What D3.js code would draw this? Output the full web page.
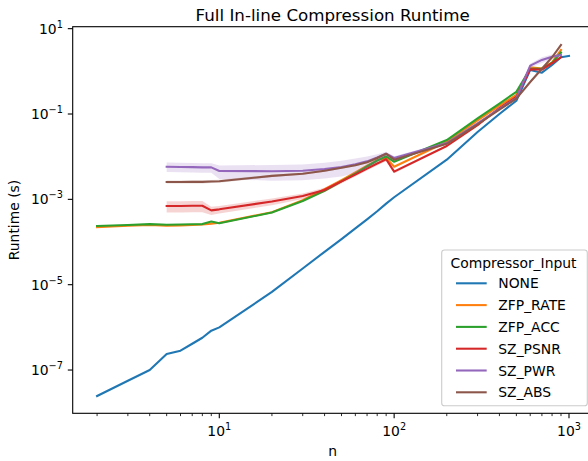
<!DOCTYPE html>
<html><head><meta charset="utf-8">
<script src="https://cdn.jsdelivr.net/npm/d3@7"></script>
<style>body{margin:0;background:#fff}svg{display:block}text{font-family:"DejaVu Sans",sans-serif}</style>
</head><body><svg id="c" width="588" height="461"></svg>
<script>
// ---- data (runtime in seconds) ----
const nNone = [2,3,4,5,6,7,8,9,10,20,30,40,50,60,70,80,90,100,200,300,400,500,600,700,800,900,1000];
const nZfp  = [2,3,4,5,6,7,8,9,10,20,30,40,50,60,70,80,90,100,200,300,400,500,600,700,800,900];
const nSz   = [5,6,7,8,9,10,20,30,40,50,60,70,80,90,100,200,300,400,500,600,700,800,900];

const NONE     = [2.46e-8,5.62e-8,1.0e-7,2.37e-7,2.84e-7,4.13e-7,5.71e-7,8.36e-7,1.0e-6,6.76e-6,2.40e-5,5.89e-5,1.17e-4,2.09e-4,3.39e-4,5.25e-4,7.94e-4,1.12e-3,8.51e-3,3.80e-2,0.100,0.205,1.08,0.93,1.41,2.13,2.29];
const ZFP_RATE = [2.24e-4,2.40e-4,2.51e-4,2.40e-4,2.45e-4,2.51e-4,2.57e-4,2.69e-4,2.82e-4,5.01e-4,9.55e-4,1.74e-3,2.82e-3,4.27e-3,6.17e-3,8.32e-3,9.33e-3,5.82e-3,2.24e-2,7.08e-2,0.158,0.279,1.24,1.17,1.62,3.16];
const ZFP_ACC  = [2.37e-4,2.51e-4,2.63e-4,2.55e-4,2.57e-4,2.60e-4,2.63e-4,3.02e-4,2.75e-4,4.90e-4,9.12e-4,1.58e-3,2.63e-3,3.98e-3,5.89e-3,8.13e-3,1.02e-2,7.59e-3,2.45e-2,7.94e-2,0.176,0.331,1.15,1.15,1.58,2.75];
const SZ_PSNR  = [6.98e-4,6.98e-4,7.08e-4,7.08e-4,5.52e-4,5.83e-4,8.91e-4,1.20e-3,1.66e-3,2.63e-3,3.80e-3,5.25e-3,6.92e-3,8.71e-3,4.47e-3,1.78e-2,5.50e-2,0.138,0.251,1.12,1.10,1.55,2.14];
const SZ_PWR   = [5.82e-3,5.75e-3,5.69e-3,5.62e-3,5.62e-3,4.61e-3,4.57e-3,4.68e-3,5.13e-3,5.75e-3,6.61e-3,7.76e-3,9.55e-3,1.17e-2,9.33e-3,2.09e-2,6.03e-2,0.132,0.234,1.36,1.85,2.20,2.42];
const SZ_ABS   = [2.55e-3,2.55e-3,2.57e-3,2.57e-3,2.63e-3,2.66e-3,3.55e-3,3.98e-3,4.68e-3,5.50e-3,6.31e-3,7.41e-3,9.33e-3,1.17e-2,8.51e-3,2.00e-2,5.75e-2,0.127,0.229,0.562,1.15,2.14,4.17];

// relative half-width of the confidence band
const ciNone = nNone.map(()=>0.02);
const ciZfpRate = nZfp.map(()=>0.03);
const ciZfpAcc  = nZfp.map(()=>0.03);
const ciPsnr = [0.3,0.3,0.3,0.3,0.22,0.2,0.18,0.15,0.12,0.1,0.1,0.1,0.1,0.1,0.08,0.05,0.05,0.05,0.05,0.06,0.06,0.06,0.06];
const ciPwr  = [0.25,0.25,0.25,0.25,0.25,0.35,0.4,0.4,0.4,0.4,0.38,0.3,0.2,0.12,0.1,0.06,0.06,0.06,0.06,0.1,0.15,0.12,0.08];
const ciAbs  = [0.08,0.08,0.08,0.08,0.08,0.08,0.06,0.05,0.05,0.05,0.05,0.05,0.05,0.05,0.05,0.04,0.04,0.04,0.04,0.05,0.05,0.05,0.05];

const seriesNames = ["NONE","ZFP_RATE","ZFP_ACC","SZ_PSNR","SZ_PWR","SZ_ABS"];
const colors = ["#1f77b4","#ff7f0e","#2ca02c","#d62728","#9467bd","#8c564b"];
const xTickVals = [10,100,1000];
const xTickExp = ["1","2","3"];
const yTickVals = [1e-7,1e-5,1e-3,1e-1,1e1];
const yTickExp = ["\u22127","\u22125","\u22123","\u22121","1"];

const series = [
  {name:"NONE", n:nNone, v:NONE, ci:ciNone},
  {name:"ZFP_RATE", n:nZfp, v:ZFP_RATE, ci:ciZfpRate},
  {name:"ZFP_ACC", n:nZfp, v:ZFP_ACC, ci:ciZfpAcc},
  {name:"SZ_PSNR", n:nSz, v:SZ_PSNR, ci:ciPsnr},
  {name:"SZ_PWR", n:nSz, v:SZ_PWR, ci:ciPwr},
  {name:"SZ_ABS", n:nSz, v:SZ_ABS, ci:ciAbs}
];

// ---- layout ----
const L=72.7, R=592.6, T=26.7, B=413.3;
const svg = d3.select("#c");
const x = d3.scaleLog().domain([Math.pow(10,0.1616),Math.pow(10,3.135)]).range([L,R]);
const y = d3.scaleLog().domain([Math.pow(10,-8.014),Math.pow(10,1.046)]).range([B,T]);

const plot = svg.append("g");
series.forEach((s,i)=>{
  const pts = s.n.map((n,j)=>({n, v:s.v[j], lo:s.v[j]*(1-s.ci[j]), hi:s.v[j]*(1+s.ci[j])}));
  plot.append("path").datum(pts)
    .attr("d", d3.area().x(d=>x(d.n)).y0(d=>y(d.lo)).y1(d=>y(d.hi)))
    .attr("fill", colors[i]).attr("fill-opacity",0.2).attr("stroke","none");
  plot.append("path").datum(pts)
    .attr("d", d3.line().x(d=>x(d.n)).y(d=>y(d.v)))
    .attr("fill","none").attr("stroke",colors[i]).attr("stroke-width",2.08)
    .attr("stroke-linejoin","round").attr("stroke-linecap","square");
});

// ---- axes ----
const fs = 13.9;
const xMinor = [];
[1,10,100].forEach(d=>{for(let k=2;k<=9;k++){const v=k*d; if(v>=x.domain()[0] && v<=x.domain()[1]) xMinor.push(v);}});
const xa = svg.append("g").attr("transform",`translate(0,${B})`);
xa.selectAll(".mn").data(xMinor).join("line")
  .attr("x1",d=>x(d)).attr("x2",d=>x(d)).attr("y1",0).attr("y2",2.8)
  .attr("stroke","#000").attr("stroke-width",0.83);
xa.selectAll(".mj").data(xTickVals).join("line")
  .attr("x1",d=>x(d)).attr("x2",d=>x(d)).attr("y1",0).attr("y2",4.9)
  .attr("stroke","#000").attr("stroke-width",1.1);
xTickVals.forEach((v,i)=>{
  const t = xa.append("text").attr("x",x(v)).attr("y",22.5).attr("text-anchor","middle")
    .attr("font-size",fs).attr("fill","#000");
  t.append("tspan").text("10");
  t.append("tspan").attr("dy",-6).attr("font-size",fs*0.7).text(xTickExp[i]);
});

const ya = svg.append("g").attr("transform",`translate(${L},0)`);
ya.selectAll(".mj").data(yTickVals).join("line")
  .attr("x1",0).attr("x2",-4.9).attr("y1",d=>y(d)).attr("y2",d=>y(d))
  .attr("stroke","#000").attr("stroke-width",1.1);
yTickVals.forEach((v,i)=>{
  const t = ya.append("text").attr("x",-9.8).attr("y",y(v)+5).attr("text-anchor","end")
    .attr("font-size",fs).attr("fill","#000");
  t.append("tspan").text("10");
  t.append("tspan").attr("dy",-6).attr("font-size",fs*0.7).text(yTickExp[i]);
});

// spines
svg.append("rect").attr("x",L).attr("y",T).attr("width",R-L).attr("height",B-T)
  .attr("fill","none").attr("stroke","#000").attr("stroke-width",1.1);

// labels
svg.append("text").attr("x",(L+R)/2).attr("y",20.7).attr("text-anchor","middle")
  .attr("font-size",16.7).attr("fill","#000").text("Full In-line Compression Runtime");
svg.append("text").attr("x",332.7).attr("y",456).attr("text-anchor","middle")
  .attr("font-size",fs).attr("fill","#000").text("n");
svg.append("text").attr("transform",`translate(19,${(T+B)/2}) rotate(-90)`).attr("text-anchor","middle")
  .attr("font-size",fs).attr("fill","#000").text("Runtime (s)");

// legend
const lg = svg.append("g");
lg.append("rect").attr("x",441.7).attr("y",250).attr("width",145.6).attr("height",155.7)
  .attr("rx",2.8).attr("fill","#fff").attr("fill-opacity",0.8).attr("stroke","#cccccc").attr("stroke-width",1.1);
lg.append("text").attr("x",513.5).attr("y",267.7).attr("text-anchor","middle")
  .attr("font-size",fs).attr("fill","#000").text("Compressor_Input");
seriesNames.forEach((nm,i)=>{
  const cy = 283.3 + i*21.8;
  lg.append("line").attr("x1",456).attr("x2",486.7).attr("y1",cy).attr("y2",cy)
    .attr("stroke",colors[i]).attr("stroke-width",2.08);
  lg.append("text").attr("x",498.3).attr("y",cy+5).attr("font-size",fs).attr("fill","#000").text(nm);
});
</script></body></html>
